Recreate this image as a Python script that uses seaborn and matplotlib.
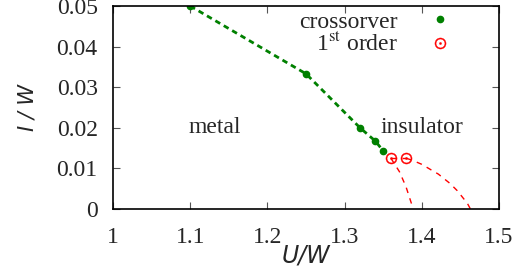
import matplotlib
matplotlib.use("Agg")
import matplotlib.pyplot as plt
import seaborn as sns
import pandas as pd

# crossover points (green)
cross_u = [1.10, 1.25, 1.32, 1.34, 1.35]
cross_t = [0.05, 0.0333, 0.02, 0.0167, 0.0143]

# first-order end points (red)
first_u = [1.36, 1.38]
first_t = [0.0125, 0.0125]

# spinodal lines (red dashed)
spin1_u = [1.36, 1.371, 1.3795, 1.3865, 1.388]
spin1_t = [0.0125, 0.0092, 0.0055, 0.0014, 0.0]
spin2_u = [1.38, 1.389, 1.400, 1.4106, 1.4214, 1.4365, 1.446, 1.459, 1.463]
spin2_t = [0.0125, 0.0119, 0.0110, 0.0098, 0.0086, 0.0063, 0.0045, 0.0014, 0.0]

x_ticks = [1.0, 1.1, 1.2, 1.3, 1.4, 1.5]
x_labels = ["1", "1.1", "1.2", "1.3", "1.4", "1.5"]
y_ticks = [0, 0.01, 0.02, 0.03, 0.04, 0.05]
y_labels = ["0", "0.01", "0.02", "0.03", "0.04", "0.05"]

sns.set_style("ticks")
plt.rcParams['font.family'] = ['Liberation Serif', 'DejaVu Serif']
plt.rcParams['mathtext.fontset'] = 'stix'

fig = plt.figure(figsize=(5.2, 2.76), dpi=100)
ax = fig.add_axes([113/520, 1 - 209/276, (499-113)/520, (209-6)/276])

green = "#008000"
red = "#ff0000"
fs = 17

cross = pd.DataFrame({"U": cross_u, "T": cross_t})
sns.lineplot(data=cross, x="U", y="T", ax=ax, color=green, lw=2,
             linestyle=(0, (2, 1.5)), sort=False)
sns.lineplot(x=first_u, y=first_t, ax=ax, color=red, lw=1,
             linestyle=(0, (4, 4)), sort=False)
sns.lineplot(x=spin1_u, y=spin1_t, ax=ax, color=red, lw=1,
             linestyle=(0, (4, 4)), sort=False)
sns.lineplot(x=spin2_u, y=spin2_t, ax=ax, color=red, lw=1,
             linestyle=(0, (4, 4)), sort=False)

h1, = ax.plot(cross_u, cross_t, ls="none", marker="o", ms=4.5,
              color=green, label="crossorver")
h2, = ax.plot(first_u, first_t, ls="none", marker="$\\odot$", ms=8,
              color=red, mew=0.3, label="1$^{\\mathrm{st}}$ order")

ax.set_xlim(1.0, 1.5)
ax.set_ylim(0, 0.05)
ax.set_xticks(x_ticks)
ax.set_xticklabels(x_labels)
ax.set_yticks(y_ticks)
ax.set_yticklabels(y_labels)
ax.tick_params(direction="in", length=5, width=0.8, color="#555555",
               labelsize=fs, top=True, right=True)
ax.tick_params(axis="x", pad=13)
ax.tick_params(axis="y", pad=11)
for s in ax.spines.values():
    s.set_linewidth(1.2)
    s.set_color("black")

ax.set_xlabel("U/W", fontsize=17, style="italic", family="DejaVu Sans",
              labelpad=-3)
ax.set_ylabel("I / W", fontsize=15, style="italic", family="DejaVu Sans",
              labelpad=14)

ax.text(1.132, 0.02, "metal", fontsize=fs, ha="center", va="center")
ax.text(1.400, 0.02, "insulator", fontsize=fs, ha="center", va="center")

ax.legend(handles=[h1, h2], loc="upper right", bbox_to_anchor=(0.878, 0.975),
          frameon=False, markerfirst=False, fontsize=fs, handlelength=1,
          handletextpad=1.3, labelspacing=0.02, borderpad=0, borderaxespad=0)

fig.savefig("out.png", dpi=100)
